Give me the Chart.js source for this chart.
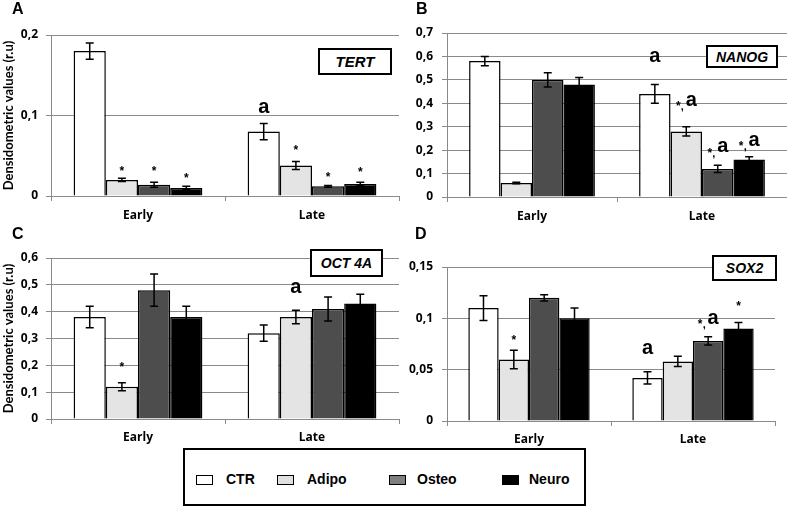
<!DOCTYPE html>
<html><head><meta charset="utf-8">
<script src="https://cdn.jsdelivr.net/npm/chart.js@4/dist/chart.umd.min.js"></script>
<style>
body{margin:0;background:#fff;width:787px;height:507px;position:relative;overflow:hidden;font-family:"Liberation Sans",Arial,sans-serif}
canvas{position:absolute}
.lbl{position:absolute;font-weight:bold;font-size:16px;line-height:16px}
.gene{position:absolute;border:2px solid #000;background:#fff;font-style:italic;font-weight:bold;font-size:14px;display:flex;align-items:center;justify-content:center;box-sizing:border-box}
#legend{position:absolute;left:183px;top:448px;width:403px;height:58px;border:2px solid #000;box-sizing:border-box;background:#fff}
.sw{position:absolute;width:17px;height:10px;border:1.5px solid #000;box-sizing:border-box;top:25px}
.lt{position:absolute;top:21px;font-weight:bold;font-size:14px;line-height:16px}
</style>
</head><body>
<canvas id="cA" width="400" height="225" style="left:0;top:0"></canvas>
<canvas id="cB" width="397" height="225" style="left:390px;top:0"></canvas>
<canvas id="cC" width="400" height="235" style="left:0;top:215px"></canvas>
<canvas id="cD" width="397" height="235" style="left:390px;top:215px"></canvas>
<div class="lbl" style="left:12px;top:1px">A</div>
<div class="lbl" style="left:416px;top:1px">B</div>
<div class="lbl" style="left:12px;top:226px">C</div>
<div class="lbl" style="left:415px;top:226px">D</div>
<div class="gene" style="left:318px;top:48px;width:74px;height:27px;font-size:15px">TERT</div>
<div class="gene" style="left:706px;top:45px;width:72px;height:23px">NANOG</div>
<div class="gene" style="left:310px;top:249px;width:73px;height:28px">OCT 4A</div>
<div class="gene" style="left:712px;top:255px;width:65px;height:26px">SOX2</div>
<div id="legend"></div>
<script>
const categories = ['Early', 'Late'];
const seriesNames = ['CTR', 'Adipo', 'Osteo', 'Neuro'];
const barColors = ['#ffffff', '#e4e4e4', '#4d4d4d', '#000000'];
const legendColors = ['#ffffff', '#e0e0e0', '#7f7f7f', '#000000'];

// rows = series (CTR, Adipo, Osteo, Neuro), columns = categories (Early, Late)
const tertMeans = [[0.18, 0.08], [0.02, 0.038], [0.014, 0.012], [0.01, 0.015]];
const tertErrors = [[0.01, 0.01], [0.002, 0.005], [0.003, 0.001], [0.002, 0.002]];
const nanogMeans = [[0.58, 0.44], [0.06, 0.28], [0.50, 0.12], [0.48, 0.16]];
const nanogErrors = [[0.02, 0.04], [0.003, 0.02], [0.03, 0.015], [0.03, 0.012]];
const oct4Means = [[0.38, 0.32], [0.12, 0.38], [0.48, 0.41], [0.38, 0.43]];
const oct4Errors = [[0.04, 0.03], [0.015, 0.025], [0.06, 0.045], [0.04, 0.035]];
const sox2Means = [[0.11, 0.042], [0.06, 0.058], [0.12, 0.078], [0.10, 0.09]];
const sox2Errors = [[0.012, 0.006], [0.009, 0.005], [0.003, 0.004], [0.01, 0.006]];

// significance marks: [series, category, mark, level]
const tertMarks = [[1,0,'*',0.035],[2,0,'*',0.035],[3,0,'*',0.026],[0,1,'a',0.11],[1,1,'*',0.061],[2,1,'*',0.027],[3,1,'*',0.034]];
const nanogMarks = [[0,1,'a',0.598],[1,1,'*a',0.414],[2,1,'*a',0.214],[3,1,'*a',0.243]];
const oct4Marks = [[1,0,'*',0.205],[1,1,'a',0.49]];
const sox2Marks = [[1,0,'*',0.082],[0,1,'a',0.071],[2,1,'*a',0.100],[3,1,'*',0.115]];

// y ticks
const tertMax = 0.2, tertStep = 0.1;
const nanogMax = 0.7, nanogStep = 0.1;
const oct4Max = 0.6, oct4Step = 0.1;
const sox2Max = 0.15, sox2Step = 0.05;
const yTitle = 'Densidometric values (r.u)';

const axisFont = {family: '"Open Sans", Lato, sans-serif', weight: 'bold', size: 12};

function fmt(v) { return String(+v.toFixed(2)).replace('.', ','); }

function drawStar(ctx, x, y) {
  ctx.font = 'bold 12px "Liberation Sans", Arial';
  ctx.textAlign = 'center'; ctx.textBaseline = 'alphabetic';
  ctx.fillText('*', x, y + 7);
}
function drawA(ctx, x, y) {
  ctx.font = 'bold 20px "Liberation Sans", Arial';
  ctx.textAlign = 'center'; ctx.textBaseline = 'alphabetic';
  ctx.fillText('a', x, y + 5.5);
}

const extrasPlugin = {
  id: 'extras',
  afterDatasetsDraw(chart) {
    const ctx = chart.ctx, ys = chart.scales.y;
    const errs = chart.options.plugins.extras.errors;
    ctx.save();
    ctx.strokeStyle = '#000'; ctx.lineWidth = 1.5;
    chart.data.datasets.forEach((ds, i) => {
      chart.getDatasetMeta(i).data.forEach((el, j) => {
        const v = ds.data[j], e = errs[i][j];
        const yt = ys.getPixelForValue(v + e), yb = ys.getPixelForValue(v - e);
        ctx.beginPath();
        ctx.moveTo(el.x, yt); ctx.lineTo(el.x, yb);
        ctx.moveTo(el.x - 4, yt); ctx.lineTo(el.x + 4, yt);
        ctx.moveTo(el.x - 4, yb); ctx.lineTo(el.x + 4, yb);
        ctx.stroke();
      });
    });
    ctx.fillStyle = '#000';
    chart.options.plugins.extras.marks.forEach(([s, c, kind, level]) => {
      const el = chart.getDatasetMeta(s).data[c];
      const cx = el.x, cy = ys.getPixelForValue(level);
      if (kind === '*') drawStar(ctx, cx, cy);
      else if (kind === 'a') drawA(ctx, cx, cy);
      else {
        drawStar(ctx, cx - 8, cy + 3);
        ctx.font = 'bold 11px "Liberation Sans", Arial';
        ctx.fillText(',', cx - 4, cy + 10);
        drawA(ctx, cx + 5, cy);
      }
    });
    ctx.restore();
  }
};

function makeChart(id, means, errs, marks, yMax, yStep, L) {
  new Chart(document.getElementById(id), {
    type: 'bar',
    data: {
      labels: categories,
      datasets: seriesNames.map((n, i) => ({
        label: n, data: means[i], backgroundColor: barColors[i],
        borderColor: '#000', borderWidth: 1.5,
        barPercentage: 1, categoryPercentage: 0.74
      }))
    },
    options: {
      responsive: false, animation: false, devicePixelRatio: 1,
      layout: {padding: {top: L.top, right: L.right, left: 0, bottom: 0}},
      plugins: {legend: {display: false}, tooltip: {enabled: false},
        extras: {errors: errs, marks: marks}},
      scales: {
        x: {
          grid: {drawOnChartArea: false, tickLength: 5, color: '#8a8a8a', offset: true},
          border: {color: '#8a8a8a', width: 1},
          ticks: {color: '#000', font: axisFont, padding: L.xpad},
          afterFit(s) { s.height = L.xh; s.paddingLeft = 0; s.paddingRight = 0; }
        },
        y: {
          min: 0, max: yMax,
          grid: {color: '#8a8a8a', tickLength: 5, lineWidth: 1},
          border: {color: '#8a8a8a', width: 1},
          ticks: {stepSize: yStep, color: '#000', font: axisFont, padding: L.ypad,
            callback: v => fmt(v)},
          title: {display: !!L.title, text: yTitle, color: '#000',
            font: {family: 'Lato, "Open Sans", sans-serif', weight: 'bold', size: 13},
            padding: {top: 1, bottom: 0}},
          afterFit(s) { s.width = L.yw; s.paddingTop = 0; s.paddingBottom = 0; }
        }
      }
    },
    plugins: [extrasPlugin]
  });
}

makeChart('cA', tertMeans, tertErrors, tertMarks, tertMax, tertStep,
  {top: 35, right: 1, xh: 29, yw: 51, title: true, xpad: 7, ypad: 8});
makeChart('cB', nanogMeans, nanogErrors, nanogMarks, nanogMax, nanogStep,
  {top: 33, right: 0, xh: 28, yw: 57, title: false, xpad: 7, ypad: 9});
makeChart('cC', oct4Means, oct4Errors, oct4Marks, oct4Max, oct4Step,
  {top: 43, right: 1, xh: 31, yw: 51, title: true, xpad: 6, ypad: 8});
makeChart('cD', sox2Means, sox2Errors, sox2Marks, sox2Max, sox2Step,
  {top: 52, right: 12, xh: 29, yw: 57, title: false, xpad: 6, ypad: 9});

// legend
const legend = document.getElementById('legend');
const swX = [11, 92, 204, 317];
const txX = [41, 122, 232, 344];
seriesNames.forEach((n, i) => {
  const sw = document.createElement('div');
  sw.className = 'sw'; sw.style.left = swX[i] + 'px'; sw.style.background = legendColors[i];
  legend.appendChild(sw);
  const t = document.createElement('div');
  t.className = 'lt'; t.style.left = txX[i] + 'px'; t.textContent = n;
  legend.appendChild(t);
});
</script>
</body></html>
